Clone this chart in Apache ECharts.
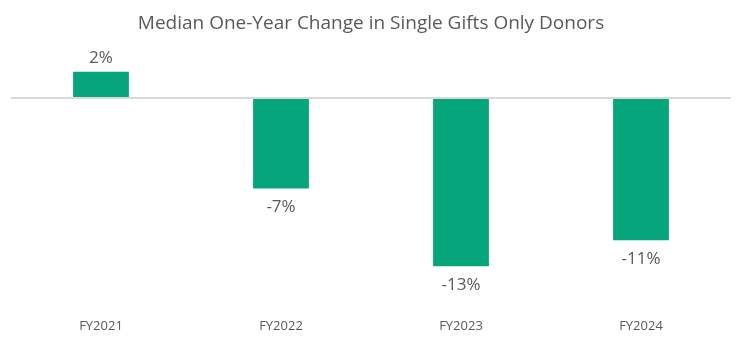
<!DOCTYPE html>
<html>
<head>
<meta charset="utf-8">
<script src="https://cdn.jsdelivr.net/npm/echarts@6/dist/echarts.min.js"></script>
<style>
  html, body { margin: 0; padding: 0; background: #ffffff; }
  #chart { width: 742px; height: 342px; }
</style>
</head>
<body>
<div id="chart"></div>
<script>
// Fiscal years and median one-year change (%) in single-gift-only donors
const categories = ['FY2021', 'FY2022', 'FY2023', 'FY2024'];
const changes = [2, -7, -13, -11];
const titleText = 'Median One-Year Change in Single Gifts Only Donors';

const textColor = '#595959';
const barColor = '#07A57B';
const fontFamily = '"Open Sans", "Noto Sans", sans-serif';

const chart = echarts.init(document.getElementById('chart'), null, { renderer: 'canvas' });

chart.setOption({
  animation: false,
  backgroundColor: '#ffffff',
  title: {
    text: titleText,
    left: 'center',
    top: 9,
    textStyle: { color: textColor, fontSize: 19, fontWeight: 'normal', fontFamily: fontFamily }
  },
  grid: { left: 11, right: 11, top: 60, bottom: 42, containLabel: false },
  xAxis: {
    type: 'category',
    data: categories,
    position: 'bottom',
    axisLine: { show: false, onZero: false },
    axisTick: { show: false },
    axisLabel: { color: textColor, fontSize: 13, fontFamily: fontFamily, margin: 20 }
  },
  yAxis: {
    type: 'value',
    min: -15.6,
    max: 2.9,
    show: false,
    splitLine: { show: false }
  },
  series: [{
    type: 'bar',
    barWidth: '31%',
    data: changes.map(v => ({
      value: v,
      label: { position: v >= 0 ? 'top' : 'bottom', distance: v >= 0 ? 5 : 10 }
    })),
    itemStyle: { color: barColor },
    label: {
      show: true,
      color: textColor,
      fontSize: 17,
      fontFamily: fontFamily,
      formatter: p => p.value + '%'
    },
    markLine: {
      silent: true,
      symbol: 'none',
      label: { show: false },
      lineStyle: { color: '#d9d9d9', width: 2, type: 'solid' },
      data: [{ yAxis: 0 }]
    },
    z: 3
  }]
});
</script>
</body>
</html>
